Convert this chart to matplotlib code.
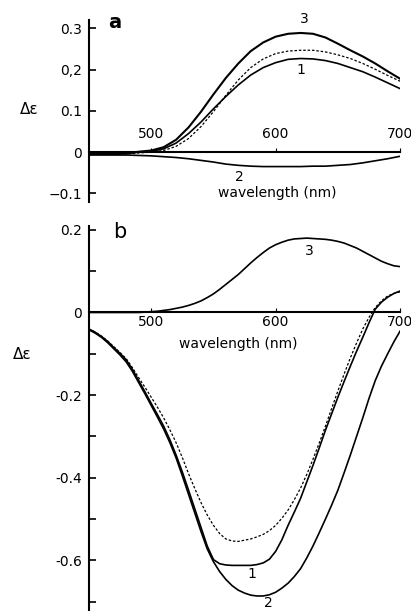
import numpy as np
import matplotlib
matplotlib.use('Agg')
import matplotlib.pyplot as plt

plt.rcParams['font.family'] = ['DejaVu Sans']

# panel a, wavelength grid (nm)
wl_a = [450, 460, 470, 480, 490, 500, 510, 520, 530, 540, 550, 560, 570,
        580, 590, 600, 610, 620, 630, 640, 650, 660, 670, 680, 690, 700]

a_c3 = [-0.004, -0.004, -0.004, -0.003, 0.001, 0.004, 0.012, 0.030, 0.060, 0.098, 0.140, 0.180, 0.215,
        0.245, 0.266, 0.280, 0.287, 0.289, 0.287, 0.278, 0.263, 0.247, 0.232, 0.215, 0.196, 0.178]
a_c1 = [-0.004, -0.004, -0.004, -0.003, 0.000, 0.002, 0.008, 0.022, 0.045, 0.073, 0.105, 0.135, 0.163,
        0.187, 0.205, 0.217, 0.225, 0.227, 0.226, 0.222, 0.215, 0.205, 0.195, 0.182, 0.168, 0.154]
a_dash = [-0.004, -0.004, -0.004, -0.004, -0.002, 0.000, 0.004, 0.014, 0.033, 0.062, 0.098, 0.138, 0.175,
          0.205, 0.226, 0.239, 0.245, 0.247, 0.247, 0.243, 0.236, 0.227, 0.215, 0.201, 0.186, 0.172]
a_c2 = [-0.007, -0.007, -0.007, -0.007, -0.008, -0.009, -0.011, -0.013, -0.016, -0.020, -0.024, -0.029, -0.032,
        -0.034, -0.035, -0.035, -0.035, -0.035, -0.034, -0.034, -0.032, -0.030, -0.026, -0.021, -0.016, -0.010]

# panel b, 5 nm grid
wl_b = [450, 455, 460, 465, 470, 475, 480, 485, 490, 495, 500, 505, 510, 515, 520, 525, 530,
        535, 540, 545, 550, 555, 560, 565, 570, 575, 580, 585, 590, 595, 600, 605, 610, 615,
        620, 625, 630, 635, 640, 645, 650, 655, 660, 665, 670, 675, 680, 685, 690, 695, 700]

b_c3 = [0.0, 0.0, 0.0, 0.0, 0.0, 0.0, 0.0, 0.0, 0.0, 0.001, 0.002, 0.003, 0.005, 0.007, 0.010, 0.013, 0.017,
        0.022, 0.028, 0.036, 0.045, 0.056, 0.068, 0.080, 0.092, 0.106, 0.120, 0.133, 0.145, 0.156, 0.164, 0.170, 0.175, 0.178,
        0.179, 0.180, 0.179, 0.178, 0.177, 0.175, 0.172, 0.168, 0.162, 0.156, 0.148, 0.140, 0.132, 0.124, 0.118, 0.113, 0.111]
b_c1 = [-0.040, -0.048, -0.058, -0.070, -0.085, -0.099, -0.115, -0.138, -0.165, -0.192, -0.220, -0.247, -0.275,
        -0.308, -0.345, -0.386, -0.430, -0.475, -0.520, -0.565, -0.598, -0.608, -0.611, -0.612, -0.612, -0.612,
        -0.612, -0.610, -0.606, -0.597, -0.578, -0.550, -0.515, -0.483, -0.450, -0.410, -0.370, -0.328, -0.285,
        -0.245, -0.205, -0.167, -0.130, -0.094, -0.060, -0.025, 0.008, 0.025, 0.037, 0.046, 0.052]
b_c2 = [-0.042, -0.050, -0.060, -0.073, -0.088, -0.103, -0.120, -0.143, -0.170, -0.197, -0.225, -0.253, -0.282,
        -0.315, -0.352, -0.395, -0.440, -0.485, -0.530, -0.572, -0.603, -0.627, -0.646, -0.661, -0.672, -0.679,
        -0.684, -0.686, -0.686, -0.683, -0.677, -0.667, -0.655, -0.639, -0.620, -0.594, -0.565, -0.533, -0.500,
        -0.466, -0.430, -0.388, -0.345, -0.300, -0.255, -0.208, -0.165, -0.130, -0.100, -0.071, -0.045]
b_dash = [-0.040, -0.047, -0.057, -0.069, -0.083, -0.097, -0.112, -0.134, -0.158, -0.181, -0.205, -0.229, -0.255,
          -0.284, -0.315, -0.351, -0.390, -0.426, -0.460, -0.490, -0.515, -0.535, -0.548, -0.553, -0.554, -0.551,
          -0.548, -0.543, -0.537, -0.528, -0.515, -0.498, -0.478, -0.453, -0.425, -0.392, -0.355, -0.316, -0.275,
          -0.232, -0.190, -0.149, -0.110, -0.074, -0.040, -0.012, 0.012, 0.028, 0.040, 0.046, 0.050]

xticks = [500, 600, 700]
a_yticks = [0.3, 0.2, 0.1, 0, -0.1]
a_ylabels = ['0.3', '0,2', '0.1', '0', '\u22120.1']
b_yticks = [0.2, 0.1, 0, -0.1, -0.2, -0.3, -0.4, -0.5, -0.6, -0.7]
b_ylabels = ['0.2', '', '0', '', '-0.2', '', '-0.4', '', '-0.6', '']

fig = plt.figure(figsize=(4.11, 6.11), dpi=100)
ax1 = fig.add_axes([0.2165, 0.670, 0.757, 0.297])
ax2 = fig.add_axes([0.2165, 0.0016, 0.757, 0.629])

lw = 1.2
ax1.plot(wl_a, a_c3, color='black', lw=1.5)
ax1.plot(wl_a, a_c1, color='black', lw=lw)
ax1.plot(wl_a, a_dash, color='black', lw=0.9, ls=(0, (2, 1.5)))
ax1.plot(wl_a, a_c2, color='black', lw=lw)

ax2.plot(wl_b, b_c3, color='black', lw=lw)
ax2.plot(wl_b, b_c1, color='black', lw=lw)
ax2.plot(wl_b, b_c2, color='black', lw=lw)
ax2.plot(wl_b, b_dash, color='black', lw=0.9, ls=(0, (2, 1.5)))

for ax in (ax1, ax2):
    ax.set_xlim(450, 700)
    for s in ('top', 'right'):
        ax.spines[s].set_visible(False)
    ax.spines['bottom'].set_position(('data', 0))
    ax.spines['bottom'].set_linewidth(1.5)
    ax.spines['left'].set_linewidth(1.5)
    ax.set_xticks(xticks)
    ax.tick_params(axis='y', direction='in', length=5, width=1.2, labelsize=10, pad=5)
    ax.patch.set_visible(False)

ax1.set_ylim(-0.12, 0.32)
ax1.set_yticks(a_yticks)
ax1.set_yticklabels(a_ylabels)
ax1.tick_params(axis='x', direction='in', length=3, labelsize=10, pad=-18)

ax2.set_ylim(-0.72, 0.21)
ax2.set_yticks(b_yticks)
ax2.set_yticklabels(b_ylabels)
ax2.tick_params(axis='x', direction='in', length=3, labelsize=10, pad=2)

# labels
ax1.text(601, -0.1, 'wavelength (nm)', ha='center', va='center', fontsize=10)
ax2.text(570, -0.077, 'wavelength (nm)', ha='center', va='center', fontsize=10)
ax1.text(471, 0.315, 'a', ha='center', va='center', fontsize=14, fontweight='bold')
ax2.text(475, 0.194, 'b', ha='center', va='center', fontsize=15)
fig.text(0.07, 0.82, '\u0394\u03b5', ha='center', va='center', fontsize=11)
fig.text(0.055, 0.419, '\u0394\u03b5', ha='center', va='center', fontsize=11)

ax1.text(623, 0.322, '3', ha='center', va='center', fontsize=10)
ax1.text(620, 0.199, '1', ha='center', va='center', fontsize=10)
ax1.text(571, -0.061, '2', ha='center', va='center', fontsize=10)
ax2.text(627, 0.148, '3', ha='center', va='center', fontsize=10)
ax2.text(581, -0.634, '1', ha='center', va='center', fontsize=10)
ax2.text(594, -0.703, '2', ha='center', va='center', fontsize=10)

fig.savefig('out.png', dpi=100)
